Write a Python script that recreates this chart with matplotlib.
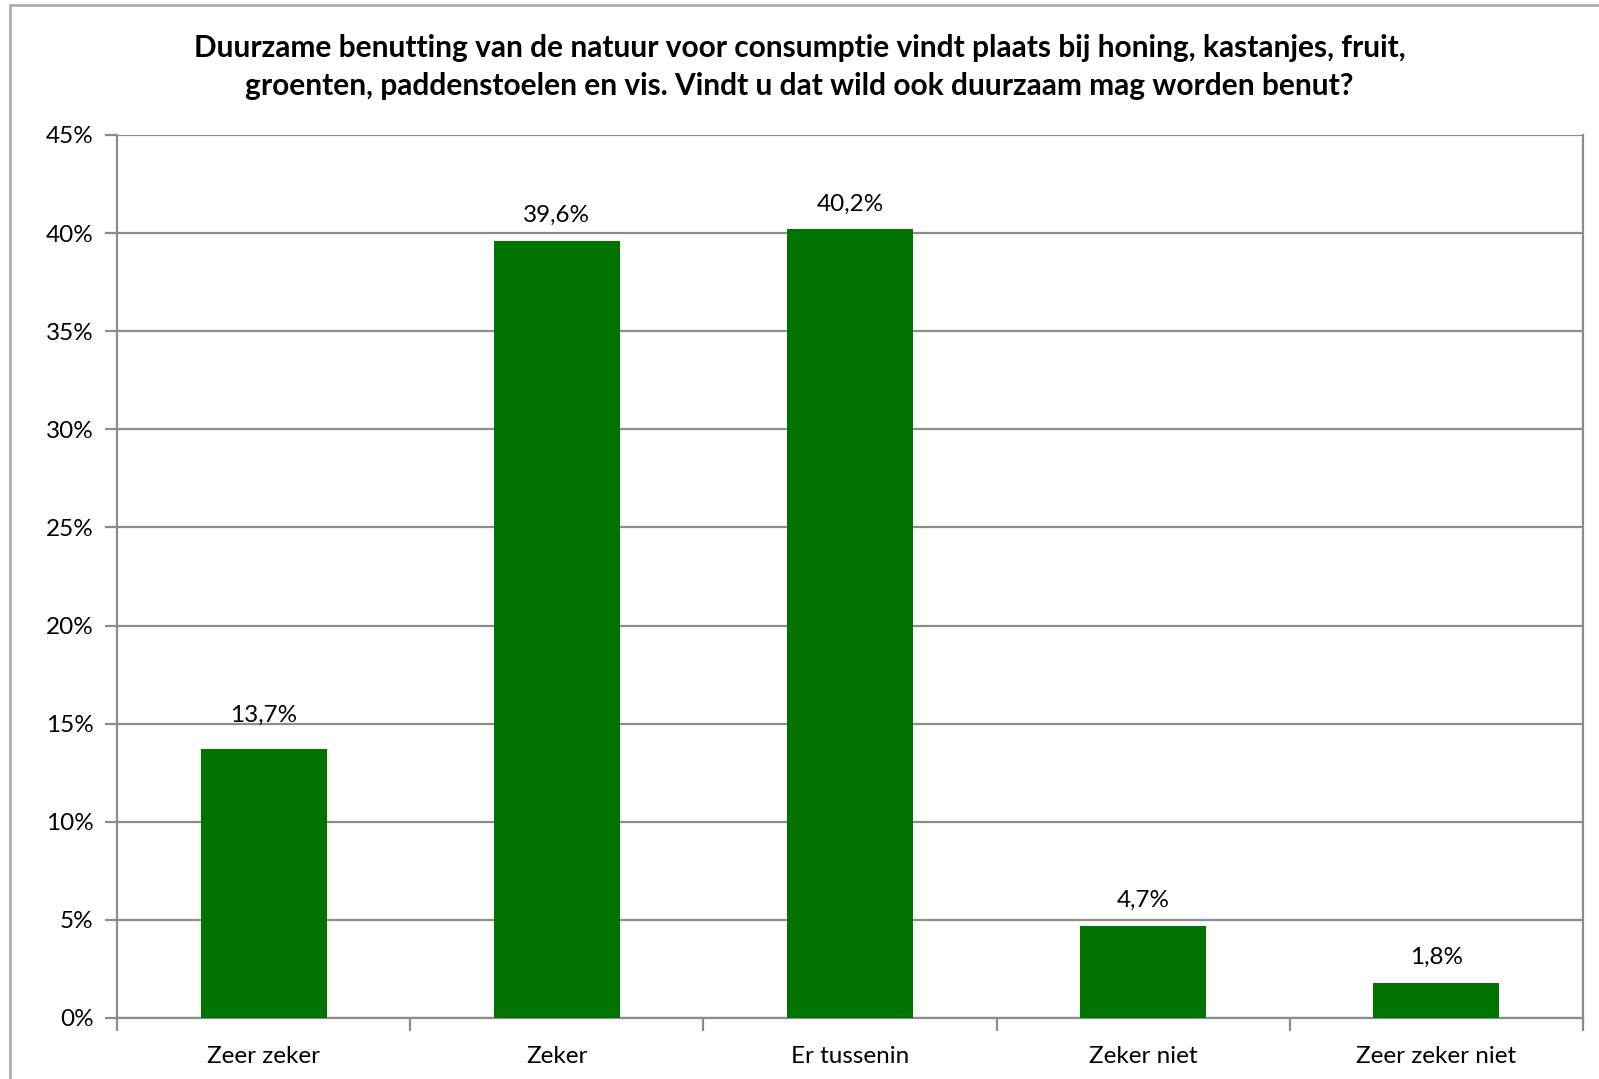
import matplotlib.pyplot as plt
from matplotlib.patches import Rectangle

plt.rcParams['font.family'] = ['Lato', 'DejaVu Sans']

categories = ["Zeer zeker", "Zeker", "Er tussenin", "Zeker niet", "Zeer zeker niet"]
values = [13.7, 39.6, 40.2, 4.7, 1.8]
y_ticks = [0, 5, 10, 15, 20, 25, 30, 35, 40, 45]
title = ("Duurzame benutting van de natuur voor consumptie vindt plaats bij honing, kastanjes, fruit,\n"
         "groenten, paddenstoelen en vis. Vindt u dat wild ook duurzaam mag worden benut?")

grid_color = "#8c8c8c"
bar_color = "#007300"
# gap between bar top and its label (in % units), first label sits a bit higher
label_gap = [1.2, 0.75, 0.75, 0.75, 0.75]

fig = plt.figure(figsize=(15.99, 10.79), dpi=100)
# outer chart frame (cut off at right and bottom like the reference)
fig.patches.append(Rectangle((10 / 1599, -0.05), 1.1, 1 - 5 / 1079 + 0.05,
                             transform=fig.transFigure, fill=False,
                             edgecolor="#b0b0b0", linewidth=2))

ax = fig.add_axes([117 / 1599, 1 - 1018 / 1079, (1583 - 117) / 1599, (1018 - 135) / 1079])

x = range(len(categories))
ax.bar(x, values, width=0.43, color=bar_color, zorder=3)
for xi, v, gap in zip(x, values, label_gap):
    ax.text(xi, v + gap, f"{v:.1f}%".replace(".", ","), ha="center", va="bottom",
            fontsize=17.5, color="black")

ax.set_xlim(-0.5, len(categories) - 0.5)
ax.set_ylim(0, 45)
ax.set_yticks(y_ticks)
ax.set_yticklabels([f"{t}%" for t in y_ticks], fontsize=17.5)
ax.yaxis.grid(True, color=grid_color, linewidth=1.6, zorder=0)

ax.set_xticks([i + 0.5 for i in range(-1, len(categories))])
ax.set_xticklabels([])
ax.set_xticks(list(x), minor=True)
ax.set_xticklabels(categories, minor=True, fontsize=17.5)
ax.tick_params(axis="x", which="minor", length=0, pad=20)
ax.tick_params(axis="x", which="major", length=9, width=1.6, color=grid_color)
ax.tick_params(axis="y", length=9, width=1.6, color=grid_color, pad=8)

for side in ["left", "bottom", "right"]:
    ax.spines[side].set_color(grid_color)
    ax.spines[side].set_linewidth(1.6)
ax.spines["top"].set_visible(False)

fig.text(0.5, 1 - 67 / 1079, title, ha="center", va="center", fontsize=21.5,
         fontweight="bold", linespacing=1.4)

fig.savefig("out.png", dpi=100)
